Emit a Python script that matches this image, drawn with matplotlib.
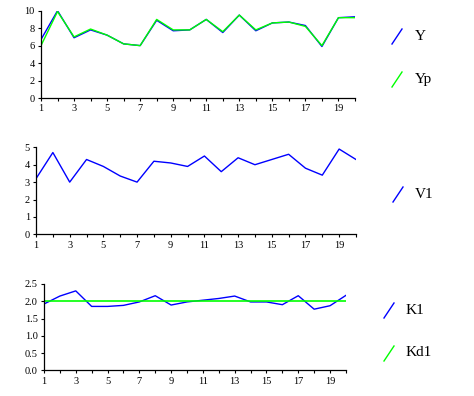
import matplotlib
matplotlib.use("Agg")
import matplotlib.pyplot as plt
from matplotlib.ticker import FixedLocator, FormatStrFormatter
from matplotlib.lines import Line2D

x = list(range(1, 21))
Y  = [6.7, 10.0, 6.9, 7.8, 7.2, 6.2, 6.0, 8.9, 7.7, 7.8, 9.0, 7.5, 9.5, 7.7, 8.6, 8.7, 8.3, 5.9, 9.2, 9.3]
Yp = [6.0, 9.9, 7.0, 7.9, 7.2, 6.2, 6.0, 9.0, 7.8, 7.8, 9.0, 7.6, 9.5, 7.8, 8.6, 8.7, 8.2, 6.0, 9.2, 9.2]
V1 = [3.2, 4.7, 3.0, 4.3, 3.9, 3.35, 3.0, 4.2, 4.1, 3.9, 4.5, 3.6, 4.4, 4.0, 4.3, 4.6, 3.8, 3.4, 4.9, 4.3]
K1 = [1.92, 2.15, 2.3, 1.85, 1.85, 1.88, 1.98, 2.16, 1.89, 1.98, 2.03, 2.08, 2.15, 1.98, 1.98, 1.9, 2.16, 1.77, 1.87, 2.17]
Kd1 = [2.0] * 20

BLUE = "#0000FF"
GREEN = "#00FF00"
SERIF = ["Liberation Serif", "DejaVu Serif"]

fig = plt.figure(figsize=(4.74, 3.96), dpi=100)

def style(ax, yticks, fmt=None):
    ax.set_xlim(1, 20)
    ax.set_ylim(yticks[0], yticks[-1])
    for s in ("top", "right"):
        ax.spines[s].set_visible(False)
    for s in ("left", "bottom"):
        ax.spines[s].set_linewidth(0.9)
        ax.spines[s].set_color("black")
    ax.xaxis.set_major_locator(FixedLocator(list(range(1, 20, 2))))
    ax.xaxis.set_minor_locator(FixedLocator(list(range(2, 21, 2))))
    ax.yaxis.set_major_locator(FixedLocator(yticks))
    if fmt:
        ax.yaxis.set_major_formatter(FormatStrFormatter(fmt))
    ax.tick_params(axis="both", which="both", length=2.5, width=0.8, direction="out",
                   labelsize=7.5, pad=2)
    for lab in ax.get_xticklabels() + ax.get_yticklabels():
        lab.set_family(SERIF)
    ax.set_facecolor("none")

ax1 = fig.add_axes([0.0865, 0.7525, 0.6624, 0.2205])
ax1.plot(x, Y, color=BLUE, lw=1.0)
ax1.plot(x, Yp, color=GREEN, lw=1.0)
style(ax1, [0, 2, 4, 6, 8, 10])

ax2 = fig.add_axes([0.076, 0.4083, 0.675, 0.2197])
ax2.plot(x, V1, color=BLUE, lw=1.0)
style(ax2, [0, 1, 2, 3, 4, 5])

ax3 = fig.add_axes([0.0928, 0.0649, 0.637, 0.218])
ax3.plot(x, K1, color=BLUE, lw=1.0)
ax3.plot(x, Kd1, color=GREEN, lw=1.2)
style(ax3, [0.0, 0.5, 1.0, 1.5, 2.0, 2.5], "%.1f")

W, H = 474.0, 396.0
legend_items = [
    ("Y", BLUE, 392, 44, 415, 36),
    ("Yp", GREEN, 392, 87, 415, 80),
    ("V1", BLUE, 393, 202, 415, 195),
    ("K1", BLUE, 384, 318, 406, 310),
    ("Kd1", GREEN, 384, 361, 406, 353),
]
for label, col, sx, sy, tx, ty in legend_items:
    fig.add_artist(Line2D([sx / W, (sx + 10) / W], [1 - sy / H, 1 - (sy - 15) / H],
                          color=col, lw=1.0, transform=fig.transFigure))
    fig.text(tx / W, 1 - ty / H, label, fontsize=11, family=SERIF,
             va="center", ha="left", color="black")

fig.savefig("out.png", dpi=100)
